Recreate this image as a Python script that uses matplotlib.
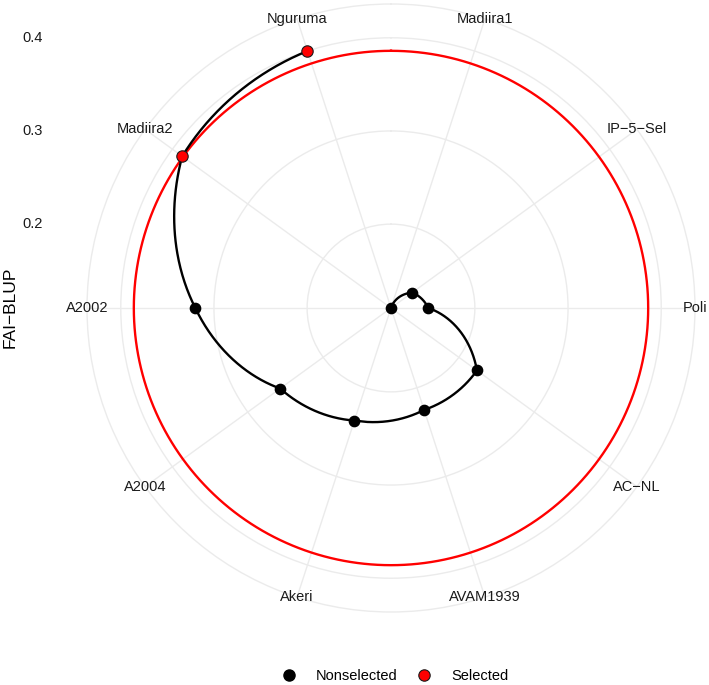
import numpy as np
import matplotlib
matplotlib.use("Agg")
import matplotlib.pyplot as plt
from matplotlib.lines import Line2D

plt.rcParams['font.family'] = ['Liberation Sans', 'DejaVu Sans']

# genotypes in the order of the angular axis (clockwise from the top)
genotypes = ["Madiira1", "IP−5−Sel", "Poli", "AC−NL", "AVAM1939",
             "Akeri", "A2004", "A2002", "Madiira2", "Nguruma"]
fai_blup = [0.110, 0.138, 0.150, 0.224, 0.225, 0.237, 0.257, 0.320, 0.387, 0.400]
selected = [False, False, False, False, False, False, False, False, True, True]
threshold = 0.386
r_breaks = [0.2, 0.3, 0.4]

vals = np.array(fai_blup)
sel = np.array(selected)
n = len(genotypes)
# discrete angular scale, half a step of padding on each side
theta = (np.arange(n) + 0.5) * 2 * np.pi / n

rmin, rmax = vals.min(), vals.max()
r_out = rmin + (rmax - rmin) * 0.45 / 0.4

fig = plt.figure(figsize=(7.09, 6.85), dpi=100)
ax = fig.add_axes([87 / 709, 73 / 685, 608 / 709, 608 / 685], projection='polar')
ax.set_theta_zero_location('N')
ax.set_theta_direction(-1)

# threshold circle
circ = np.linspace(0, 2 * np.pi, 721)
ax.plot(circ, np.full_like(circ, threshold), color='red', lw=1.7, zorder=2)

# path from highest to lowest, munched so it spirals like coord_polar
order = np.argsort(vals)[::-1]
idx = np.arange(n)
t = np.linspace(0, n - 1, 900)
ax.plot(np.interp(t, idx, theta[order]), np.interp(t, idx, vals[order]),
        color='black', lw=1.7, zorder=3)

ax.plot(theta[~sel], vals[~sel], 'o', color='black', ms=7.4, zorder=4)
ax.plot(theta[sel], vals[sel], 'o', mfc='red', mec='#1a1a1a', mew=0.8, ms=8.2, zorder=4)

ax.set_ylim(rmin, r_out)
ax.set_rticks(r_breaks)
ax.set_yticklabels([])
ax.set_xticks(theta)
ax.set_xticklabels([])
ax.tick_params(length=0)
ax.grid(color='#EBEBEB', lw=1.0)
ax.spines['polar'].set_color('#EBEBEB')
ax.spines['polar'].set_linewidth(1.0)

for th, name in zip(theta, genotypes):
    ax.text(th, r_out, name, ha='center', va='center', fontsize=10.5, color='#1a1a1a')

# radial labels on the left, like ggplot
inv = fig.transFigure.inverted()
for b in r_breaks:
    fy = inv.transform(ax.transData.transform((0, b)))[1]
    fig.text(43 / 709, fy, f"{b:.1f}", ha='right', va='center', fontsize=10.5, color='#1a1a1a')

fig.text(10 / 709, 1 - 307 / 685, "FAI−BLUP", rotation=90, ha='center', va='center',
         fontsize=12.5, color='black')

handles = [
    Line2D([], [], ls='', marker='o', color='black', ms=8),
    Line2D([], [], ls='', marker='o', mfc='red', mec='#1a1a1a', mew=0.8, ms=8.2),
]
fig.legend(handles, ["Nonselected", "Selected"], loc='center', ncol=2, frameon=False,
           bbox_to_anchor=(0.557, 1 - 676 / 685), fontsize=10.5,
           handlelength=1.0, handletextpad=1.35, columnspacing=1.3)

fig.savefig("out.png", dpi=100)
